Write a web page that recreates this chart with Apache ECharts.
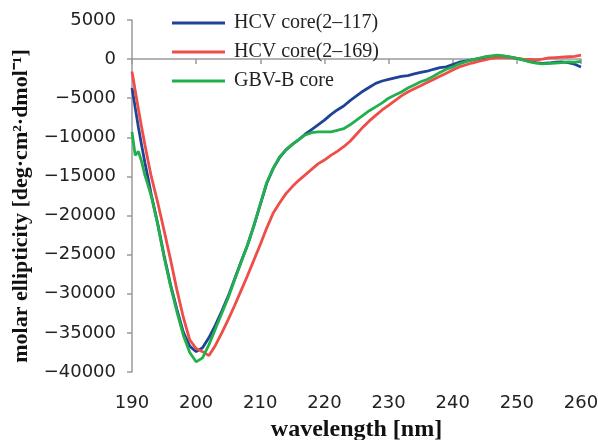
<!DOCTYPE html>
<html>
<head>
<meta charset="utf-8">
<script src="https://cdn.jsdelivr.net/npm/echarts@6/dist/echarts.min.js"></script>
<style>
html,body{margin:0;padding:0;background:#fff;}
#chart{width:598px;height:440px;}
</style>
</head>
<body>
<div id="chart"></div>
<script>
var wavelengths = [190,190.5,191,191.5,192,192.5,193,194,195,196,197,198,199,200,201,202,203,204,205,206,207,208,209,210,211,212,213,214,215,216,217,218,219,220,221,222,223,224,225,226,227,228,229,230,231,232,233,234,235,236,237,238,239,240,241,242,243,244,245,246,247,248,249,250,251,252,253,254,255,256,257,258,259,260];

var hcv117 = [-3700,-6200,-8700,-11000,-13200,-15200,-17300,-21000,-25100,-28800,-32000,-34900,-36700,-37400,-36900,-35600,-34000,-32200,-30300,-28100,-25900,-23800,-21300,-18600,-15900,-14000,-12600,-11600,-10900,-10300,-9600,-9000,-8400,-7800,-7100,-6500,-6000,-5300,-4700,-4100,-3600,-3100,-2800,-2600,-2400,-2200,-2100,-1900,-1700,-1550,-1300,-1100,-1000,-700,-400,-250,-100,50,200,300,400,350,250,100,-100,-300,-450,-550,-500,-400,-350,-450,-650,-1000];

var hcv169 = [-1600,-4000,-6400,-8700,-10900,-13000,-15000,-18300,-21900,-25600,-29500,-33000,-35900,-37000,-37400,-37900,-36600,-35000,-33300,-31500,-29600,-27700,-25700,-23700,-21600,-19700,-18400,-17200,-16300,-15500,-14800,-14100,-13400,-12900,-12300,-11800,-11200,-10500,-9600,-8700,-7900,-7200,-6500,-5900,-5300,-4700,-4200,-3800,-3400,-3000,-2600,-2200,-1800,-1400,-1000,-750,-500,-300,-100,100,200,200,150,100,0,-50,-100,0,150,200,250,300,350,500];

var gbvb = [-9300,-12300,-11800,-13100,-14800,-16100,-17500,-21100,-25300,-29000,-32300,-35300,-37500,-38700,-38200,-36500,-34500,-32500,-30500,-28200,-26000,-23800,-21300,-18500,-15800,-14000,-12500,-11600,-10900,-10300,-9700,-9400,-9300,-9300,-9300,-9100,-8900,-8400,-7800,-7200,-6600,-6100,-5600,-5000,-4600,-4200,-3700,-3300,-2900,-2600,-2200,-1700,-1300,-1000,-600,-350,-100,100,300,400,500,400,250,100,-100,-350,-500,-600,-550,-500,-450,-350,-400,-300];

var seriesNames = ['HCV core(2\u2013117)','HCV core(2\u2013169)','GBV-B core'];
var seriesColors = ['#1f4396','#ef4d47','#21b04b'];

function pairs(vals){ return wavelengths.map(function(w,i){ return [w, vals[i]]; }); }

var chart = echarts.init(document.getElementById('chart'));
var allVals = [hcv117, hcv169, gbvb];
chart.setOption({
  animation:false,
  backgroundColor:'#fff',
  grid:{left:132,right:17,top:20,bottom:68,containLabel:false,outerBoundsMode:'none'},
  legend:{
    orient:'vertical', left:167, top:7,
    itemWidth:53, itemHeight:3, itemGap:7,
    icon:'rect',
    data:seriesNames,
    textStyle:{fontFamily:'Liberation Serif',fontSize:20,color:'#222',lineHeight:22,padding:[0,0,0,4]}
  },
  xAxis:{
    type:'value', min:190, max:260, interval:10,
    axisLine:{lineStyle:{color:'#9a9a9a',width:1.5}},
    axisTick:{show:true,inside:false,length:5,lineStyle:{color:'#9a9a9a',width:1.5}},
    splitLine:{show:false},
    axisLabel:{fontFamily:'DejaVu Sans',fontSize:18,color:'#222',margin:22},
    name:'wavelength [nm]', nameLocation:'middle', nameGap:46,
    nameTextStyle:{fontFamily:'Liberation Serif',fontWeight:'bold',fontSize:24,color:'#111'}
  },
  yAxis:{
    type:'value', min:-40000, max:5000, interval:5000,
    axisLine:{show:true,lineStyle:{color:'#9a9a9a',width:1.5}},
    axisTick:{show:true,inside:false,length:5,lineStyle:{color:'#9a9a9a',width:1.5}},
    splitLine:{show:false},
    axisLabel:{fontFamily:'DejaVu Sans',fontSize:18,color:'#222',margin:16,
      formatter:function(v){ return v<0 ? '\u2212'+Math.abs(v) : String(v); }},
    name:'molar ellipticity [deg\u00b7cm\u00b2\u00b7dmol\u207b\u00b9]', nameLocation:'middle', nameGap:83, nameRotate:90,
    nameTextStyle:{fontFamily:'Liberation Serif',fontWeight:'bold',fontSize:22,color:'#111',padding:[0,0,0,-20]}
  },
  series: seriesNames.map(function(n,i){
    return {
      name:n, type:'line', showSymbol:false, symbol:'none',
      data:pairs(allVals[i]),
      lineStyle:{color:seriesColors[i],width:2.8},
      itemStyle:{color:seriesColors[i]},
      z: 2+i
    };
  })
});
</script>
</body>
</html>
